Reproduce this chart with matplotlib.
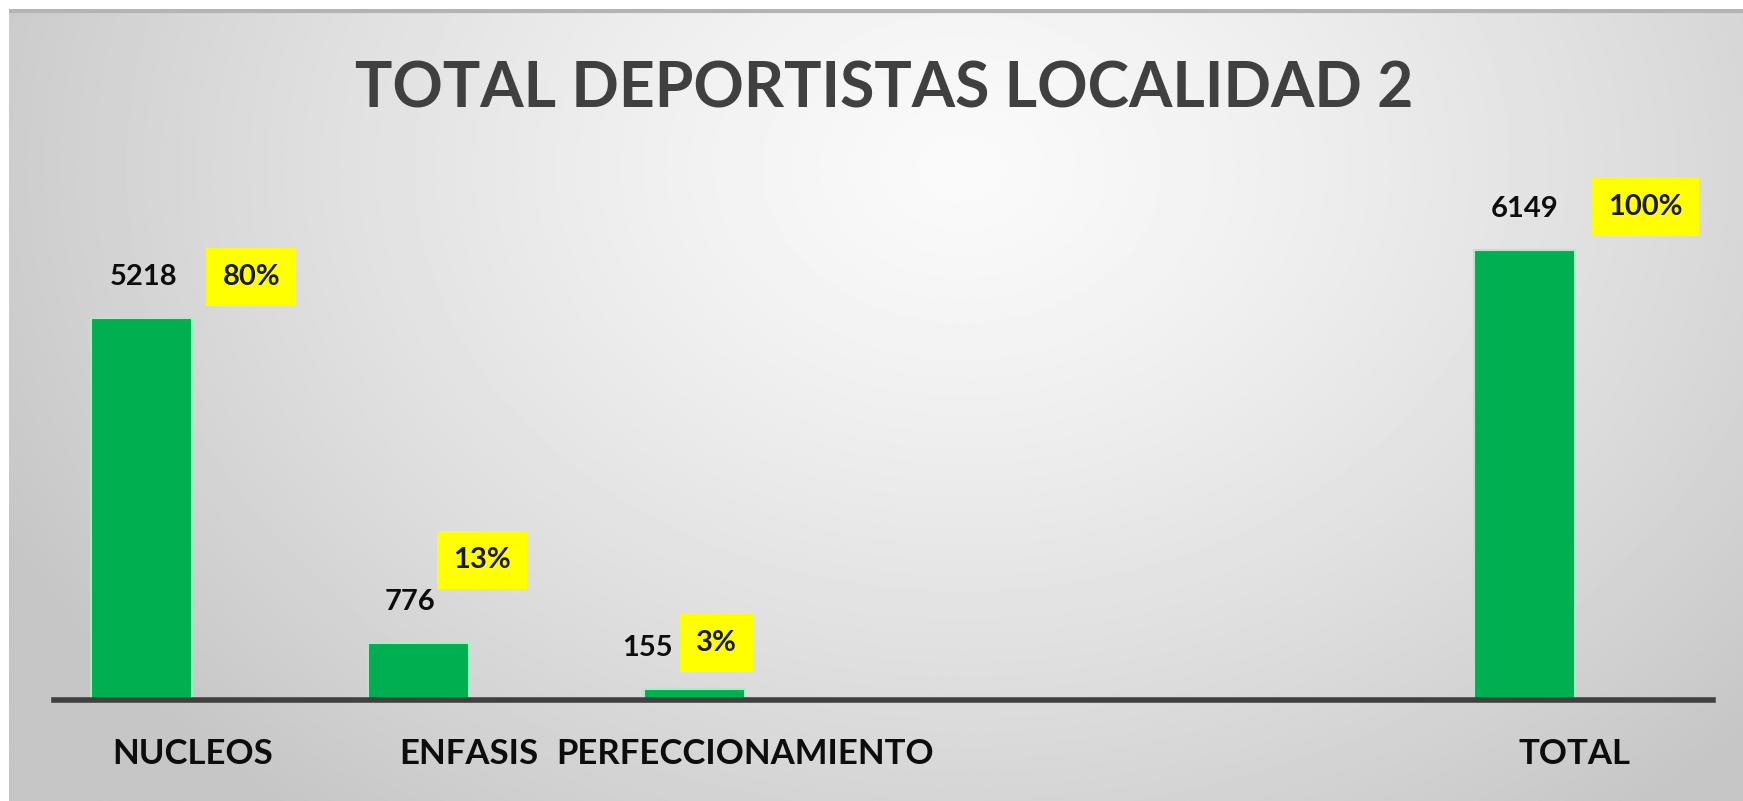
import numpy as np
import matplotlib
matplotlib.use("Agg")
import matplotlib.pyplot as plt

# Data
categories = ["NUCLEOS", "ENFASIS", "PERFECCIONAMIENTO", "", "", "TOTAL"]
values = [5218, 776, 155, np.nan, np.nan, 6149]
percents = [80, 13, 3, None, None, 100]

# label nudges in pixels (value label x, percent box x, percent box y)
val_dx = [2, -8, -47, 0, 0, 0]
pct_dx = [59, 13, -29, 0, 0, 71]
pct_dy = [41, 83, 46, 0, 0, 43]

W, H = 1743, 801
fig = plt.figure(figsize=(W / 100, H / 100), dpi=100, facecolor="white")

# background panel with soft radial gradient
bg = fig.add_axes([9 / W, 0, 1 - 9 / W, 1 - 9 / H])
yy, xx = np.mgrid[0:1:400j, 0:1:900j]
r = np.sqrt(((xx - 0.55) / 0.62) ** 2 + ((yy - 0.2) / 1.05) ** 2)
r = np.clip(r, 0, 1) ** 1.3
shade = 0.98 - (0.98 - 0.775) * r
bg.imshow(shade, cmap="gray", vmin=0, vmax=1, aspect="auto", extent=[0, 1, 1, 0])
bg.axhline(0.003, color="#b4b4b4", lw=3)
bg.set_xlim(0, 1)
bg.set_ylim(1, 0)
bg.axis("off")

# main axes
ax = fig.add_axes([54 / W, 101 / H, 1659 / W, 560 / H])
ax.patch.set_alpha(0)
x = np.arange(len(categories))
ax.bar(x, values, width=-0.365, align="edge", color="#00b050",
       edgecolor="#a6efc4", linewidth=1.5, zorder=3)
ax.set_xlim(-0.5, len(categories) - 0.5)
ax.set_ylim(0, 5218 * 560 / 382)

for s in ["top", "right", "left"]:
    ax.spines[s].set_visible(False)
ax.spines["bottom"].set_color("#404040")
ax.spines["bottom"].set_linewidth(4)
ax.spines["bottom"].set_zorder(4)
ax.set_yticks([])
ax.set_xticks(x)
ax.set_xticklabels(categories, fontsize=25, fontweight="bold", family="Lato",
                   color="#0d0d0d")
ax.tick_params(axis="x", length=0, pad=27)

for i, v in enumerate(values):
    if np.isnan(v):
        continue
    ax.annotate(f"{v}", (i - 0.1825, v), xytext=(val_dx[i], 41),
                textcoords="offset pixels", ha="center", va="center",
                fontsize=21, fontweight="bold", family="Lato", color="#0d0d0d")
    ax.annotate(f"{percents[i]}%", (i, v), xytext=(pct_dx[i], pct_dy[i]),
                textcoords="offset pixels", ha="center", va="center",
                fontsize=21, fontweight="bold", family="Lato", color="#1a1a1a",
                bbox=dict(boxstyle="square,pad=0.55", fc="#ffff00", ec="none"))

fig.text(884 / W, 1 - 90 / H, "TOTAL DEPORTISTAS LOCALIDAD 2", ha="center",
         va="center", fontsize=45, fontweight="bold", family="Lato",
         color="#404040")

fig.savefig("out.png", dpi=100, facecolor=fig.get_facecolor())
